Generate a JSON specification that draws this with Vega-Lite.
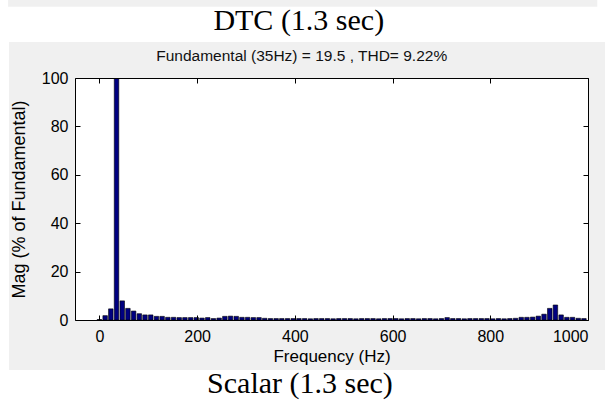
{
  "$schema": "https://vega.github.io/schema/vega-lite/v6.json",
  "width": 513,
  "height": 242,
  "autosize": {"type": "none"},
  "padding": {"left": 75, "top": 78, "right": 17, "bottom": 81},
  "background": "white",
  "view": {"stroke": null, "fill": null},
  "datasets": {
    "spectrum": [
      {"f": 0, "mag": 0.2}, {"f": 11.7, "mag": 1.8}, {"f": 23.3, "mag": 4.6}, {"f": 35, "mag": 100},
      {"f": 46.7, "mag": 7.9}, {"f": 58.3, "mag": 4.8}, {"f": 70, "mag": 3.7}, {"f": 81.7, "mag": 2.6},
      {"f": 93.3, "mag": 2.1}, {"f": 105, "mag": 2.1}, {"f": 116.7, "mag": 1.5}, {"f": 128.3, "mag": 1.5},
      {"f": 140, "mag": 1.1}, {"f": 151.7, "mag": 1.1}, {"f": 163.3, "mag": 1.0}, {"f": 175, "mag": 1.0},
      {"f": 186.7, "mag": 1.0}, {"f": 198.3, "mag": 1.0}, {"f": 210, "mag": 0.8}, {"f": 221.7, "mag": 1.0},
      {"f": 233.3, "mag": 0.6}, {"f": 245, "mag": 0.8}, {"f": 256.7, "mag": 1.5}, {"f": 268.3, "mag": 1.6},
      {"f": 280, "mag": 1.5}, {"f": 291.7, "mag": 1.1}, {"f": 303.3, "mag": 1.1}, {"f": 315, "mag": 1.0},
      {"f": 326.7, "mag": 1.0}, {"f": 338.3, "mag": 0.7}, {"f": 350, "mag": 0.6}, {"f": 361.7, "mag": 0.6},
      {"f": 373.3, "mag": 0.6}, {"f": 385, "mag": 0.6}, {"f": 396.7, "mag": 0.6}, {"f": 408.3, "mag": 0.6},
      {"f": 420, "mag": 0.6}, {"f": 431.7, "mag": 0.5}, {"f": 443.3, "mag": 0.6}, {"f": 455, "mag": 0.6},
      {"f": 466.7, "mag": 0.6}, {"f": 478.3, "mag": 0.5}, {"f": 490, "mag": 0.6}, {"f": 501.7, "mag": 0.6},
      {"f": 513.3, "mag": 0.6}, {"f": 525, "mag": 0.5}, {"f": 536.7, "mag": 0.6}, {"f": 548.3, "mag": 0.6},
      {"f": 560, "mag": 0.6}, {"f": 571.7, "mag": 0.5}, {"f": 583.3, "mag": 0.6}, {"f": 595, "mag": 0.6},
      {"f": 606.7, "mag": 0.6}, {"f": 618.3, "mag": 0.5}, {"f": 630, "mag": 0.6}, {"f": 641.7, "mag": 0.6},
      {"f": 653.3, "mag": 0.5}, {"f": 665, "mag": 0.6}, {"f": 676.7, "mag": 0.6}, {"f": 688.3, "mag": 0.5},
      {"f": 700, "mag": 0.6}, {"f": 711.7, "mag": 1.0}, {"f": 723.3, "mag": 0.6}, {"f": 735, "mag": 0.6},
      {"f": 746.7, "mag": 0.5}, {"f": 758.3, "mag": 0.6}, {"f": 770, "mag": 0.6}, {"f": 781.7, "mag": 0.6},
      {"f": 793.3, "mag": 0.6}, {"f": 805, "mag": 0.5}, {"f": 816.7, "mag": 0.6}, {"f": 828.3, "mag": 0.5},
      {"f": 840, "mag": 0.6}, {"f": 851.7, "mag": 0.7}, {"f": 863.3, "mag": 1.1}, {"f": 875, "mag": 1.1},
      {"f": 886.7, "mag": 1.2}, {"f": 898.3, "mag": 1.6}, {"f": 910, "mag": 2.4}, {"f": 921.7, "mag": 4.8},
      {"f": 933.3, "mag": 6.2}, {"f": 945, "mag": 2.1}, {"f": 956.7, "mag": 1.1}, {"f": 968.3, "mag": 1.1},
      {"f": 980, "mag": 0.7}, {"f": 991.7, "mag": 0.6}
    ]
  },
  "resolve": {"axis": {"x": "independent", "y": "independent"}},
  "layer": [
    {
      "data": {"values": [{}]},
      "mark": {"type": "rect", "color": "#f0f0f0", "clip": false},
      "encoding": {
        "x": {"datum": -185, "type": "quantitative", "scale": {"domain": [-50, 1000], "nice": false, "zero": false, "padding": 0}, "axis": null},
        "x2": {"datum": 1040},
        "y": {"datum": -20.7, "type": "quantitative", "scale": {"domain": [0, 100], "nice": false, "padding": 0}, "axis": null},
        "y2": {"datum": 114.9}
      }
    },
    {
      "data": {"values": [{}]},
      "mark": {"type": "rect", "color": "#f0f0f0", "clip": false},
      "encoding": {
        "x": {"datum": -187, "type": "quantitative", "scale": {"domain": [-50, 1000], "nice": false, "zero": false, "padding": 0}, "axis": null},
        "x2": {"datum": 1019},
        "y": {"datum": 129.4, "type": "quantitative", "scale": {"domain": [0, 100], "nice": false, "padding": 0}, "axis": null},
        "y2": {"datum": 140}
      }
    },
    {
      "data": {"values": [{}]},
      "mark": {"type": "rect", "color": "white"},
      "encoding": {
        "x": {"datum": -50, "type": "quantitative", "scale": {"domain": [-50, 1000], "nice": false, "zero": false, "padding": 0},
              "axis": {"orient": "top", "values": [0, 200, 400, 600, 800, 1000], "labels": false, "title": null, "domain": true, "domainColor": "black", "grid": false, "tickSize": -5, "tickColor": "black", "zindex": 1}},
        "x2": {"datum": 1000},
        "y": {"datum": 0, "type": "quantitative", "scale": {"domain": [0, 100], "nice": false, "padding": 0},
              "axis": {"orient": "right", "values": [0, 20, 40, 60, 80, 100], "labels": false, "title": null, "domain": true, "domainColor": "black", "grid": false, "tickSize": -5, "tickColor": "black", "zindex": 1}},
        "y2": {"datum": 100}
      }
    },
    {
      "data": {"name": "spectrum"},
      "mark": {"type": "bar", "orient": "vertical", "width": 4.5, "color": "#000080", "stroke": "black", "strokeWidth": 0.6, "clip": true},
      "encoding": {
        "x": {"field": "f", "type": "quantitative", "scale": {"domain": [-50, 1000], "nice": false, "zero": false, "padding": 0},
              "axis": {"orient": "bottom", "values": [0, 200, 400, 600, 800, 1000], "format": "d", "title": "Frequency (Hz)", "domain": true, "domainColor": "black", "grid": false, "tickSize": -5, "tickColor": "black", "zindex": 1,
                       "labelFont": "Liberation Sans", "labelFontSize": 16, "labelColor": "black", "labelPadding": 13,
                       "titleFont": "Liberation Sans", "titleFontSize": 17, "titleFontWeight": "normal", "titleColor": "black", "titlePadding": 4}},
        "y": {"field": "mag", "type": "quantitative", "scale": {"domain": [0, 100], "nice": false, "padding": 0},
              "axis": {"orient": "left", "values": [0, 20, 40, 60, 80, 100], "format": "d", "title": "Mag (% of Fundamental)", "domain": true, "domainColor": "black", "grid": false, "tickSize": -5, "tickColor": "black", "zindex": 1,
                       "labelFont": "Liberation Sans", "labelFontSize": 16, "labelColor": "black", "labelPadding": 12,
                       "titleFont": "Liberation Sans", "titleFontSize": 18, "titleFontWeight": "normal", "titleColor": "black", "titlePadding": 13}}
      }
    },
    {
      "data": {"values": [{"label": "Fundamental (35Hz) = 19.5 , THD= 9.22%"}]},
      "mark": {"type": "text", "font": "Liberation Sans", "fontSize": 15.5, "color": "#111111", "baseline": "middle", "align": "center", "clip": false},
      "encoding": {
        "text": {"field": "label"},
        "x": {"datum": 414, "type": "quantitative", "scale": {"domain": [-50, 1000], "nice": false, "zero": false, "padding": 0}, "axis": null},
        "y": {"datum": 109.1, "type": "quantitative", "scale": {"domain": [0, 100], "nice": false, "padding": 0}, "axis": null}
      }
    },
    {
      "data": {"values": [{"label": "DTC (1.3 sec)"}]},
      "mark": {"type": "text", "font": "Liberation Serif", "fontSize": 30, "color": "black", "baseline": "middle", "align": "center", "clip": false},
      "encoding": {
        "text": {"field": "label"},
        "x": {"datum": 408, "type": "quantitative", "scale": {"domain": [-50, 1000], "nice": false, "zero": false, "padding": 0}, "axis": null},
        "y": {"datum": 123.6, "type": "quantitative", "scale": {"domain": [0, 100], "nice": false, "padding": 0}, "axis": null}
      }
    },
    {
      "data": {"values": [{"label": "Scalar (1.3 sec)"}]},
      "mark": {"type": "text", "font": "Liberation Serif", "fontSize": 30, "color": "black", "baseline": "middle", "align": "center", "clip": false},
      "encoding": {
        "text": {"field": "label"},
        "x": {"datum": 410.5, "type": "quantitative", "scale": {"domain": [-50, 1000], "nice": false, "zero": false, "padding": 0}, "axis": null},
        "y": {"datum": -26.4, "type": "quantitative", "scale": {"domain": [0, 100], "nice": false, "padding": 0}, "axis": null}
      }
    }
  ]
}
